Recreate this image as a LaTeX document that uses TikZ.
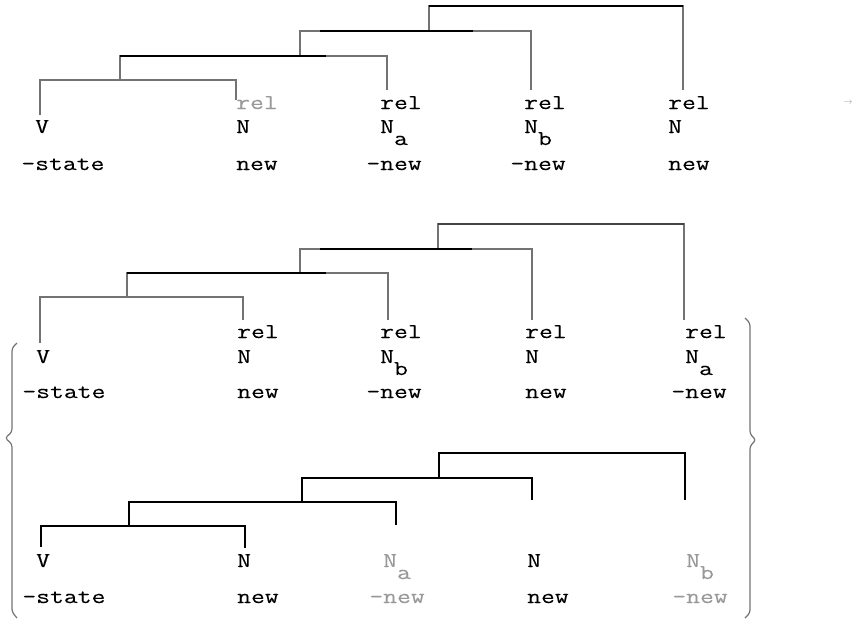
\documentclass[tikz,border=0pt]{standalone}
\usepackage{fontspec}
\setmonofont[FakeStretch=1.28, FakeBold=0.15]{Latin Modern Mono}
\definecolor{linegray}{gray}{0.45}
\definecolor{faint}{gray}{0.6}
\tikzset{
  branch/.style={linegray, line width=1.4pt},
  ink/.style={black, line width=1.8pt},
  lbl/.style={anchor=base west, inner sep=0pt, font=\ttfamily\fontsize{21}{24}\selectfont},
}
\newcommand{\subsc}[2]{#1\raisebox{-12pt}{#2}}

\begin{document}
\begin{tikzpicture}[x=1pt, y=-1pt]
    \useasboundingbox (0,0) rectangle (854,622);

    % first tree
    \coordinate (a1) at (40,115);
    \coordinate (a2) at (236,100);
    \coordinate (a3) at (387,90);
    \coordinate (a4) at (531,90);
    \coordinate (a5) at (683,90);
    \coordinate (a12) at (120,80);
    \coordinate (a123) at (300,56);
    \coordinate (a1234) at (429,31);
    \coordinate (atop) at (429,6);

    \draw[branch] (a1) |- (a2 |- a12) -- (a2);
    \draw[branch] (a12) |- (a3 |- a123) -- (a3);
    \draw[branch] (a123) |- (a4 |- a1234) -- (a4);
    \draw[branch] (a1234) |- (a5 |- atop) -- (a5);
    \draw[ink] (a12 |- a123) -- (326,56);
    \draw[ink] (320,31) -- (473,31);
    \draw[ink] (atop) -- (a5 |- atop);

    \node[lbl] (v1) at (35,133) {V};
    \node[lbl] (s1) at (35,170) {\llap{-}state};
    \node[lbl, faint] (r12) at (236,109) {rel};
    \node[lbl] (n12) at (236,133) {N};
    \node[lbl] (w12) at (236,170) {new};
    \node[lbl] (r13) at (380,109) {rel};
    \node[lbl] (n13) at (380,133) {\subsc{N}{a}};
    \node[lbl] (w13) at (380,170) {\llap{-}new};
    \node[lbl] (r14) at (524,109) {rel};
    \node[lbl] (n14) at (524,133) {\subsc{N}{b}};
    \node[lbl] (w14) at (524,170) {\llap{-}new};
    \node[lbl] (r15) at (668,109) {rel};
    \node[lbl] (n15) at (668,133) {N};
    \node[lbl] (w15) at (668,170) {new};

    \node[faint, inner sep=0pt, font=\fontsize{9}{9}\selectfont] (goes) at (848,103) {$\rightarrow$};

    % second tree
    \coordinate (b1) at (40,343);
    \coordinate (b2) at (243,320);
    \coordinate (b3) at (388,320);
    \coordinate (b4) at (532,320);
    \coordinate (b5) at (684,320);
    \coordinate (b12) at (127,297);
    \coordinate (b123) at (300,273);
    \coordinate (b1234) at (438,249);
    \coordinate (btop) at (438,224);

    \draw[branch] (b1) |- (b2 |- b12) -- (b2);
    \draw[branch] (b12) |- (b3 |- b123) -- (b3);
    \draw[branch] (b123) |- (b4 |- b1234) -- (b4);
    \draw[branch] (b1234) |- (b5 |- btop) -- (b5);
    \draw[ink] (b12 |- b123) -- (326,273);
    \draw[ink] (320,249) -- (472,249);
    \draw[ink, linegray!60!black] (btop) -- (b5 |- btop);

    \node[lbl] (v2) at (36,363) {V};
    \node[lbl] (s2) at (36,398) {\llap{-}state};
    \node[lbl] (r22) at (237,338) {rel};
    \node[lbl] (n22) at (237,363) {N};
    \node[lbl] (w22) at (237,398) {new};
    \node[lbl] (r23) at (380,338) {rel};
    \node[lbl] (n23) at (380,363) {\subsc{N}{b}};
    \node[lbl] (w23) at (380,398) {\llap{-}new};
    \node[lbl] (r24) at (525,338) {rel};
    \node[lbl] (n24) at (525,363) {N};
    \node[lbl] (w24) at (525,398) {new};
    \node[lbl] (r25) at (685,338) {rel};
    \node[lbl] (n25) at (685,363) {\subsc{N}{a}};
    \node[lbl] (w25) at (685,398) {\llap{-}new};

    % third tree
    \coordinate (c1) at (41,547);
    \coordinate (c2) at (245,548);
    \coordinate (c3) at (396,525);
    \coordinate (c4) at (532,500);
    \coordinate (c5) at (685,500);
    \coordinate (c12) at (129,526);
    \coordinate (c123) at (302,502);
    \coordinate (c1234) at (439,478);
    \coordinate (ctop) at (439,453);

    \draw[ink] (c1) |- (c2 |- c12) -- (c2);
    \draw[ink] (c12) |- (c3 |- c123) -- (c3);
    \draw[ink] (c123) |- (c4 |- c1234) -- (c4);
    \draw[ink] (c1234) |- (c5 |- ctop) -- (c5);

    \node[lbl] (v3) at (36,567) {V};
    \node[lbl] (s3) at (36,603) {\llap{-}state};
    \node[lbl] (n32) at (237,567) {N};
    \node[lbl] (w32) at (237,603) {new};
    \node[lbl, faint] (n33) at (383,567) {\subsc{N}{a}};
    \node[lbl, faint] (w33) at (383,603) {\llap{-}new};
    \node[lbl] (n34) at (527,567) {N};
    \node[lbl] (w34) at (527,603) {new};
    \node[lbl, faint] (n35) at (686,567) {\subsc{N}{b}};
    \node[lbl, faint] (w35) at (686,603) {\llap{-}new};

    % braces round the two alternatives
    \draw[branch, line width=1.2pt, rounded corners=3pt] (17,343) -- (12,348) -- (12,432) -- (5,438) -- (12,444) -- (12,612) -- (17,618);
    \draw[branch, line width=1.2pt, rounded corners=3pt] (745,318) -- (750,323) -- (750,434) -- (756,440) -- (750,446) -- (750,613) -- (745,618);
\end{tikzpicture}
\end{document}
